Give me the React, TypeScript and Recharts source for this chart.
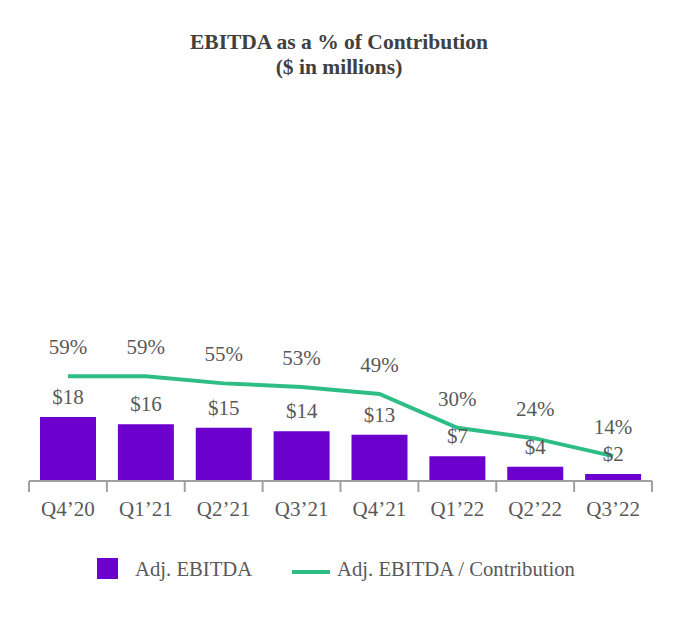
import { ComposedChart, Bar, Line, XAxis, YAxis, LabelList } from "recharts"

const quarters = ["Q4’20", "Q1’21", "Q2’21", "Q3’21", "Q4’21", "Q1’22", "Q2’22", "Q3’22"]
const adjEbitda = [18, 16, 15, 14, 13, 7, 4, 2]
const ebitdaPct = [59, 59, 55, 53, 49, 30, 24, 14]

const data = quarters.map((q, i) => ({ q, ebitda: adjEbitda[i], pct: ebitdaPct[i] }))

const W = 680
const H = 620
const PURPLE = "#6C00CC"
const GREEN = "#2EBE85"
const TEXT = "#595959"
const AXIS = "#A0A0A0"
const FONT = "'Liberation Serif', 'Times New Roman', serif"
const margin = { top: 126, right: 28, bottom: 79, left: 29 }

function CategoryTick(props: any) {
  const { x, y, payload, index, visibleTicksCount } = props
  const half = payload.offset ?? (W - margin.left - margin.right) / quarters.length / 2
  return (
    <g>
      <line x1={x - half} x2={x - half} y1={y} y2={y + 11} stroke={AXIS} strokeWidth={2} />
      {index === visibleTicksCount - 1 && (
        <line x1={x + half} x2={x + half} y1={y} y2={y + 11} stroke={AXIS} strokeWidth={2} />
      )}
      <text x={x} y={y + 35} textAnchor="middle" fill={TEXT} fontSize={21} fontFamily={FONT}>
        {payload.value}
      </text>
    </g>
  )
}

function BarLabel(props: any) {
  const { x, y, width, value } = props
  return (
    <text x={x + width / 2} y={y - 13} textAnchor="middle" fill={TEXT} fontSize={21} fontFamily={FONT}>
      ${value}
    </text>
  )
}

function PctLabel(props: any) {
  const { x, y, value } = props
  return (
    <text x={x} y={y - 22} textAnchor="middle" fill={TEXT} fontSize={21} fontFamily={FONT}>
      {value}%
    </text>
  )
}

export default function App() {
  return (
    <div style={{ position: "absolute", left: 0, top: 0, width: W, height: H, background: "#fff" }}>
      <ComposedChart width={W} height={H} data={data} margin={margin}>
        <XAxis
          dataKey="q"
          height={60}
          tickLine={false}
          tickSize={0}
          tickMargin={0}
          axisLine={{ stroke: AXIS, strokeWidth: 2 }}
          tick={<CategoryTick />}
          interval={0}
        />
        <YAxis yAxisId="usd" hide domain={[0, 100]} />
        <YAxis yAxisId="pct" hide domain={[0, 200]} />
        <Bar yAxisId="usd" dataKey="ebitda" fill={PURPLE} barSize={56} isAnimationActive={false}>
          <LabelList dataKey="ebitda" content={<BarLabel />} />
        </Bar>
        <Line
          yAxisId="pct"
          type="linear"
          dataKey="pct"
          stroke={GREEN}
          strokeWidth={4}
          dot={false}
          isAnimationActive={false}
        >
          <LabelList dataKey="pct" content={<PctLabel />} />
        </Line>
      </ComposedChart>
      <svg
        width={W}
        height={H}
        style={{ position: "absolute", left: 0, top: 0, pointerEvents: "none" }}
      >
        <text x={339} y={49} textAnchor="middle" fontWeight="bold" fontSize={21.5} fill="#404040" fontFamily={FONT}>
          EBITDA as a % of Contribution
        </text>
        <text x={339} y={74} textAnchor="middle" fontWeight="bold" fontSize={21.5} fill="#404040" fontFamily={FONT}>
          ($ in millions)
        </text>
        <rect x={97} y={558} width={21} height={21} fill={PURPLE} />
        <text x={135} y={576} fontSize={20.7} fill={TEXT} fontFamily={FONT}>
          Adj. EBITDA
        </text>
        <line x1={292} x2={330} y1={572} y2={572} stroke={GREEN} strokeWidth={4} />
        <text x={337} y={576} fontSize={20.7} fill={TEXT} fontFamily={FONT}>
          Adj. EBITDA / Contribution
        </text>
      </svg>
    </div>
  )
}
